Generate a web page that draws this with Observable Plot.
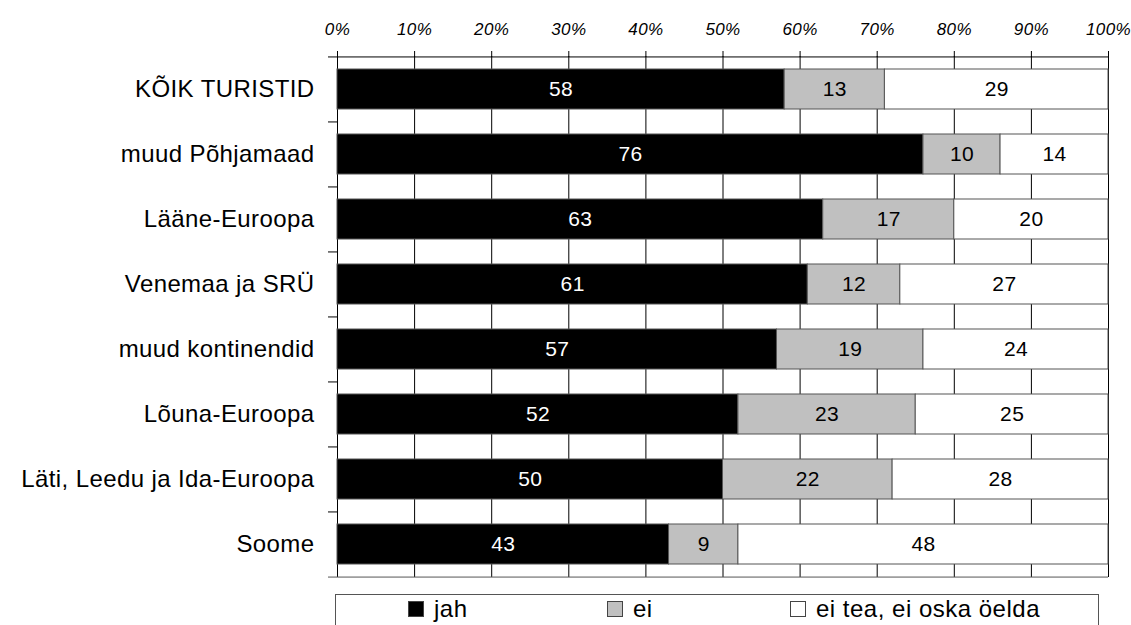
<!DOCTYPE html>
<html>
<head>
<meta charset="utf-8">
<script src="https://cdn.jsdelivr.net/npm/d3@7"></script>
<script src="https://cdn.jsdelivr.net/npm/@observablehq/plot@0.6"></script>
<style>
  body { margin: 0; background: #fff; font-family: "Liberation Sans", Arial, sans-serif; }
  #wrap { position: relative; width: 1131px; height: 625px; overflow: hidden; }
  #legend {
    position: absolute; left: 335px; top: 594px; width: 764px; height: 40px;
    border: 1px solid #555; box-sizing: border-box; font-size: 24px; letter-spacing: 0.5px; color: #000;
  }
  .item { position: absolute; top: 1px; display: flex; align-items: center; line-height: 26px; }
  .sw { width: 16px; height: 16px; box-sizing: border-box; border: 1px solid #444; margin-right: 10px; }
  #chart svg text { letter-spacing: 0.4px; }
</style>
</head>
<body>
<div id="wrap">
  <div id="chart"></div>
  <div id="legend"></div>
</div>
<script>
// Survey groups, top to bottom
const groups = [
  "KÕIK TURISTID",
  "muud Põhjamaad",
  "Lääne-Euroopa",
  "Venemaa ja SRÜ",
  "muud kontinendid",
  "Lõuna-Euroopa",
  "Läti, Leedu ja Ida-Euroopa",
  "Soome"
];
// Answer categories
const answers = ["jah", "ei", "ei tea, ei oska öelda"];
// Shares (%) per answer, in the order of groups
const jah   = [58, 76, 63, 61, 57, 52, 50, 43];
const ei    = [13, 10, 17, 12, 19, 23, 22, 9];
const eiTea = [29, 14, 20, 27, 24, 25, 28, 48];
// Percent axis ticks
const xTicks = [0, 10, 20, 30, 40, 50, 60, 70, 80, 90, 100];

const colors = ["#000000", "#c0c0c0", "#ffffff"];

const rows = [];
groups.forEach((g, i) => {
  [jah[i], ei[i], eiTea[i]].forEach((v, k) => rows.push({group: g, answer: answers[k], value: v}));
});

const W = 1131, H = 590, MT = 56, MB = 13, ML = 337, MR = 23;
const step = (H - MT - MB) / groups.length;

const chart = Plot.plot({
  width: W,
  height: H,
  marginTop: MT,
  marginBottom: MB,
  marginLeft: ML,
  marginRight: MR,
  style: {fontFamily: "'Liberation Sans', Arial, sans-serif", color: "#000", background: "#fff"},
  x: {domain: [0, 100], axis: null},
  y: {domain: groups, paddingInner: 0.385, paddingOuter: 0.1925, axis: null},
  color: {domain: answers, range: colors},
  marks: [
    // vertical grid
    Plot.ruleX(xTicks, {stroke: "#000", strokeWidth: 1}),
    // stacked bars
    Plot.barX(rows, Plot.stackX({
      x: "value", y: "group", fill: "answer", stroke: "#555", strokeWidth: 1
    })),
    // value labels
    Plot.text(rows, Plot.stackX({
      x: "value", y: "group", text: d => String(d.value),
      fill: d => d.answer === "jah" ? "#fff" : "#000",
      fontSize: 21
    })),
    // band separators on the category axis
    Plot.ruleY(groups.slice(1), {y: d => d, dy: -step / 2, x1: 0, x2: 0, insetLeft: -9, stroke: "#000"}),
    // top and bottom frame lines
    Plot.ruleY([groups[0]], {y: d => d, dy: -step / 2, x1: 0, x2: 100, insetLeft: -9, stroke: "#000"}),
    Plot.ruleY([groups[groups.length - 1]], {y: d => d, dy: step / 2, x1: 0, x2: 100, insetLeft: -9, stroke: "#555"}),
    Plot.axisX({
      anchor: "top", ticks: xTicks, tickFormat: d => d + "%", label: null,
      tickSize: 6, tickPadding: 16, fontSize: 17, fontStyle: "italic", stroke: "#000"
    }),
    Plot.axisY({
      anchor: "left", label: null, tickSize: 0, tickPadding: 23, fontSize: 24
    })
  ]
});
document.getElementById("chart").appendChild(chart);

// Legend box below the chart
const legend = document.getElementById("legend");
const itemX = [72, 271, 454];
answers.forEach((a, k) => {
  const it = document.createElement("div");
  it.className = "item";
  it.style.left = itemX[k] + "px";
  const sw = document.createElement("span");
  sw.className = "sw";
  sw.style.background = colors[k];
  const tx = document.createElement("span");
  tx.textContent = a;
  it.appendChild(sw);
  it.appendChild(tx);
  legend.appendChild(it);
});
</script>
</body>
</html>
